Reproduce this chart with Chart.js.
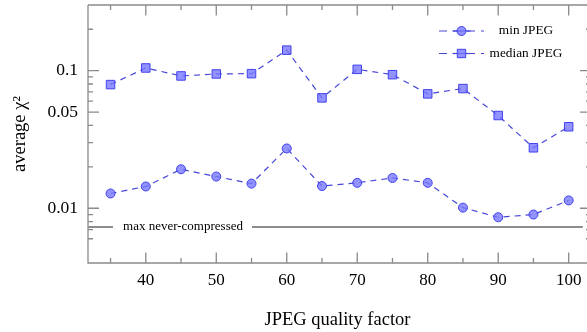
<!DOCTYPE html>
<html>
<head>
<meta charset="utf-8">
<script src="https://cdn.jsdelivr.net/npm/chart.js@4/dist/chart.umd.min.js"></script>
<style>
html, body { margin: 0; padding: 0; background: #fff; }
#wrap { width: 587px; height: 332px; }
</style>
</head>
<body>
<div id="wrap"><canvas id="chart"></canvas></div>
<script>
// data
var quality = [35, 40, 45, 50, 55, 60, 65, 70, 75, 80, 85, 90, 95, 100];
var minJpeg = [0.0128, 0.0144, 0.0192, 0.0170, 0.0151, 0.0272, 0.0145, 0.0153, 0.0166, 0.0153, 0.0101, 0.0086, 0.0090, 0.0114];
var medianJpeg = [0.0792, 0.1046, 0.0915, 0.0946, 0.0951, 0.141, 0.0634, 0.1022, 0.0935, 0.0678, 0.0741, 0.0472, 0.0275, 0.0391];
var maxNeverCompressed = 0.0073;
var maxNeverRange = [31.8, 102];

var xMajorTicks = [40, 50, 60, 70, 80, 90, 100];
var xMinorTicks = [35, 45, 55, 65, 75, 85, 95];
var yMajorTicks = [0.01, 0.05, 0.1];
var yMinorTicks = [0.006, 0.007, 0.008, 0.009, 0.02, 0.03, 0.04, 0.06, 0.07, 0.08, 0.09, 0.2];

var serif = "'Liberation Serif', 'Times New Roman', serif";
var frameColor = '#8a8a8a';

function pts(ys) {
    return quality.map(function (q, i) { return {x: q, y: ys[i]}; });
}

// drop the extra room Chart.js keeps for end labels
function noPad(s) {
    s.paddingLeft = 0; s.paddingRight = 0;
    s.paddingTop = 0; s.paddingBottom = 0;
}

// gnuplot-like frame with inward ticks
var framePlugin = {
    id: 'frame',
    beforeDatasetsDraw: function (chart) {
        var ctx = chart.ctx, a = chart.chartArea;
        var xs = chart.scales.x, ys = chart.scales.y;
        ctx.save();
        ctx.strokeStyle = frameColor;
        ctx.lineWidth = 1.3;
        ctx.beginPath();
        ctx.moveTo(a.left, a.top); ctx.lineTo(a.right + 10, a.top);
        ctx.moveTo(a.left, a.top); ctx.lineTo(a.left, a.bottom);
        ctx.lineTo(a.right + 10, a.bottom);
        function xt(v, len) {
            var p = xs.getPixelForValue(v);
            ctx.moveTo(p, a.bottom); ctx.lineTo(p, a.bottom - len);
            ctx.moveTo(p, a.top); ctx.lineTo(p, a.top + len);
        }
        function yt(v, len) {
            var p = ys.getPixelForValue(v);
            ctx.moveTo(a.left, p); ctx.lineTo(a.left + len, p);
            // right frame sits just outside the picture
            ctx.moveTo(a.right + 4, p); ctx.lineTo(a.right + 4 - len, p);
        }
        xMajorTicks.forEach(function (v) { xt(v, 10.5); });
        xMinorTicks.forEach(function (v) { xt(v, 5); });
        yMajorTicks.forEach(function (v) { yt(v, 11); });
        yMinorTicks.forEach(function (v) { yt(v, 5); });
        ctx.stroke();
        ctx.restore();
    },
    afterDatasetsDraw: function (chart) {
        var ctx = chart.ctx, a = chart.chartArea;
        var ys = chart.scales.y;
        ctx.save();
        // label sitting in a gap of the threshold line
        var ly = ys.getPixelForValue(maxNeverCompressed);
        ctx.fillStyle = '#fff';
        ctx.fillRect(a.left + 25, ly - 4, 139, 8);
        ctx.fillStyle = '#000';
        ctx.font = '13px ' + serif;
        ctx.textAlign = 'center';
        ctx.textBaseline = 'middle';
        ctx.fillText('max never-compressed', a.left + 95, ly);

        // key
        chart.data.datasets.slice(0, 2).forEach(function (ds, i) {
            var y = 31 + i * 22.5;
            var x0 = 439, x1 = 484, xm = (x0 + x1) / 2;
            ctx.strokeStyle = ds.borderColor;
            ctx.lineWidth = 1.2;
            ctx.setLineDash([8, 6]);
            ctx.beginPath();
            ctx.moveTo(x0, y); ctx.lineTo(x1, y);
            ctx.stroke();
            ctx.setLineDash([]);
            ctx.beginPath();
            ctx.moveTo(xm - 9, y); ctx.lineTo(xm + 9, y);
            ctx.stroke();
            ctx.fillStyle = ds.pointBackgroundColor;
            ctx.strokeStyle = ds.pointBorderColor;
            ctx.lineWidth = 1;
            ctx.beginPath();
            if (ds.pointStyle === 'rect') {
                ctx.rect(xm - 4.2, y - 4.2, 8.4, 8.4);
            } else {
                ctx.arc(xm, y, 4.5, 0, Math.PI * 2);
            }
            ctx.fill();
            ctx.stroke();
            ctx.fillStyle = '#000';
            ctx.font = '13.3px ' + serif;
            ctx.textAlign = 'center';
            ctx.fillText(ds.label, 526, y);
        });
        ctx.restore();
    }
};

var canvas = document.getElementById('chart');
var config = {
    type: 'line',
    data: {
        datasets: [{
            label: 'min JPEG',
            data: pts(minJpeg),
            borderColor: '#4646d8',
            borderWidth: 1.2,
            borderDash: [6, 5],
            pointStyle: 'circle',
            pointRadius: 4.5,
            pointBackgroundColor: 'rgba(120,120,255,0.8)',
            pointBorderColor: '#4040f0',
            pointBorderWidth: 1,
            tension: 0
        }, {
            label: 'median JPEG',
            data: pts(medianJpeg),
            borderColor: '#4646d8',
            borderWidth: 1.2,
            borderDash: [6, 5],
            pointStyle: 'rect',
            pointRadius: 6,
            pointBackgroundColor: 'rgba(120,120,255,0.8)',
            pointBorderColor: '#4040f0',
            pointBorderWidth: 1,
            tension: 0
        }, {
            label: 'max never-compressed',
            data: maxNeverRange.map(function (q) { return {x: q, y: maxNeverCompressed}; }),
            borderColor: '#8c8c8c',
            borderWidth: 2,
            pointRadius: 0
        }]
    },
    options: {
        responsive: true,
        maintainAspectRatio: false,
        animation: false,
        layout: {autoPadding: false, padding: {top: 5, left: 0, right: 0, bottom: 0}},
        plugins: {
            legend: {display: false},
            tooltip: {enabled: false}
        },
        scales: {
            x: {
                type: 'linear',
                min: 31.8,
                max: 102.6,
                grid: {display: false, drawTicks: false},
                border: {display: false},
                afterBuildTicks: function (s) {
                    s.ticks = xMajorTicks.map(function (v) { return {value: v}; });
                },
                afterFit: function (s) { s.height = 69; noPad(s); },
                ticks: {
                    autoSkip: false,
                    maxRotation: 0,
                    padding: 7.5,
                    color: '#000',
                    font: {family: serif, size: 17},
                    callback: function (v) { return String(v); }
                },
                title: {
                    display: true,
                    text: 'JPEG quality factor',
                    color: '#000',
                    font: {family: serif, size: 18.5},
                    padding: {top: 0, bottom: 1}
                }
            },
            y: {
                type: 'logarithmic',
                min: 0.004,
                max: 0.3,
                grid: {display: false, drawTicks: false},
                border: {display: false},
                afterBuildTicks: function (s) {
                    s.ticks = yMajorTicks.map(function (v) { return {value: v}; });
                },
                afterFit: function (s) { s.width = 88; noPad(s); },
                ticks: {
                    padding: 10,
                    color: '#000',
                    font: {family: serif, size: 17.5},
                    callback: function (v) { return String(v); }
                },
                title: {
                    display: true,
                    text: 'average χ²',
                    color: '#000',
                    font: {family: serif, size: 18.5},
                    padding: {top: 9, bottom: 0}
                }
            }
        }
    },
    plugins: [framePlugin]
};

var chart = new Chart(canvas, config);
</script>
</body>
</html>
